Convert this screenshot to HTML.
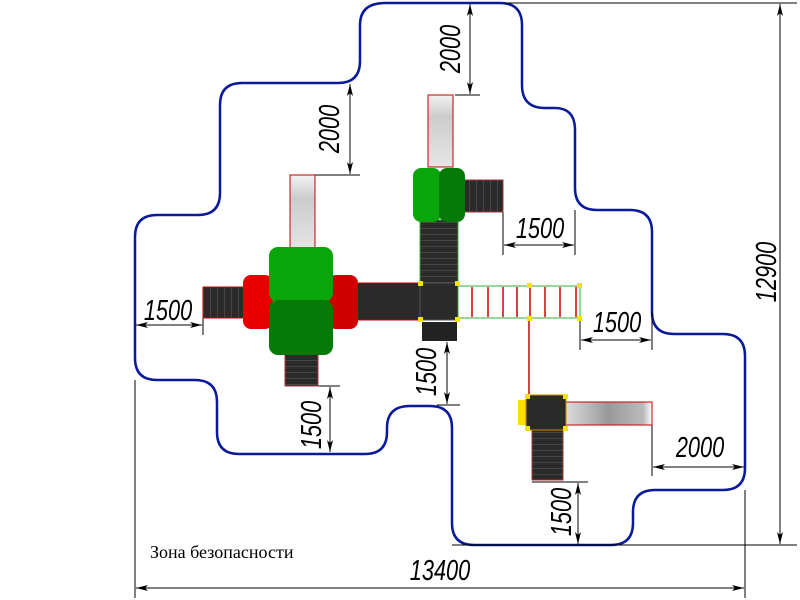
<!DOCTYPE html>
<html><head><meta charset="utf-8"><style>body{margin:0;background:#fff}svg{display:block}</style></head><body>
<svg width="800" height="600" viewBox="0 0 800 600" xmlns="http://www.w3.org/2000/svg">
<defs>
<marker id="a" viewBox="0 0 12 6" refX="12" refY="3" markerWidth="12" markerHeight="6" orient="auto-start-reverse" markerUnits="userSpaceOnUse"><path d="M0,0 L12,3 L0,6 L3,3 Z" fill="#000"/></marker>
<linearGradient id="sl" x1="0" y1="0" x2="0" y2="1"><stop offset="0" stop-color="#f2f2f2"/><stop offset=".3" stop-color="#ccc"/><stop offset="1" stop-color="#e6e6e6"/></linearGradient>
<linearGradient id="sh" x1="0" y1="0" x2="1" y2="0"><stop offset="0" stop-color="#ddd"/><stop offset=".5" stop-color="#999"/><stop offset=".9" stop-color="#bbb"/><stop offset="1" stop-color="#fff"/></linearGradient>
<pattern id="st" width="6" height="6" patternUnits="userSpaceOnUse"><rect width="6" height="6" fill="#2a2a2a"/><rect width="6" height="1" fill="#444"/></pattern>
<pattern id="sv" width="7" height="7" patternUnits="userSpaceOnUse"><rect width="7" height="7" fill="#2a2a2a"/><rect width="1" height="7" fill="#444"/></pattern>
</defs>
<path d="M385,3 L500,3 Q522,3 522,25 L522,85 Q522,108 545,108 L555,108 Q575,108 575,130 L575,188 Q575,210 597,210 L630,210 Q652,210 652,232 L652,312 Q652,334 674,334 L723,334 Q745,334 745,356 L745,468 Q745,490 723,490 L655,490 Q633,490 633,512 L633,523 Q633,545 611,545 L474,545 Q452,545 452,523 L452,428 Q452,406 430,406 L410,406 Q387,406 387,428 L387,432 Q387,454 365,454 L239,454 Q217,454 217,432 L217,402 Q217,380 195,380 L157,380 Q135,380 135,358 L135,237 Q135,215 157,215 L198,215 Q220,215 220,193 L220,105 Q220,83 242,83 L338,83 Q360,83 360,61 L360,25 Q360,3 385,3 Z" fill="none" stroke="#0a1a9a" stroke-width="2.5"/>
<g stroke="#000" stroke-width="1" fill="none">
<line x1="505" y1="3" x2="797" y2="3"/><line x1="452" y1="545" x2="797" y2="545"/>
<line x1="780" y1="4" x2="780" y2="544" marker-start="url(#a)" marker-end="url(#a)"/>
<line x1="135" y1="380" x2="135" y2="598"/><line x1="745" y1="490" x2="745" y2="598"/>
<line x1="136" y1="588" x2="744" y2="588" marker-start="url(#a)" marker-end="url(#a)"/>
<line x1="455" y1="95" x2="480" y2="95"/><line x1="470" y1="4" x2="470" y2="94" marker-start="url(#a)" marker-end="url(#a)"/>
<line x1="315" y1="175" x2="360" y2="175"/><line x1="350" y1="84" x2="350" y2="174" marker-start="url(#a)" marker-end="url(#a)"/>
<line x1="203" y1="287" x2="203" y2="335"/><line x1="136" y1="325" x2="202" y2="325" marker-start="url(#a)" marker-end="url(#a)"/>
<line x1="285" y1="386" x2="340" y2="386"/><line x1="330" y1="387" x2="330" y2="452" marker-start="url(#a)" marker-end="url(#a)"/>
<line x1="437" y1="405" x2="460" y2="405"/><line x1="447" y1="342" x2="447" y2="404" marker-start="url(#a)" marker-end="url(#a)"/>
<line x1="503" y1="190" x2="503" y2="255"/><line x1="575" y1="210" x2="575" y2="255"/><line x1="504" y1="245" x2="574" y2="245" marker-start="url(#a)" marker-end="url(#a)"/>
<line x1="580" y1="318" x2="580" y2="350"/><line x1="652" y1="312" x2="652" y2="350"/><line x1="581" y1="340" x2="651" y2="340" marker-start="url(#a)" marker-end="url(#a)"/>
<line x1="652" y1="402" x2="652" y2="476"/><line x1="653" y1="467" x2="744" y2="467" marker-start="url(#a)" marker-end="url(#a)"/>
<line x1="532" y1="482" x2="588" y2="482"/><line x1="578" y1="483" x2="578" y2="544" marker-start="url(#a)" marker-end="url(#a)"/>
</g>
<g font-family="Liberation Sans, sans-serif" font-style="italic" font-size="29" fill="#000">
<text transform="translate(460,49) rotate(-90) scale(0.75,1)" text-anchor="middle">2000</text>
<text transform="translate(339,129) rotate(-90) scale(0.75,1)" text-anchor="middle">2000</text>
<text transform="translate(321,425) rotate(-90) scale(0.75,1)" text-anchor="middle">1500</text>
<text transform="translate(436,372) rotate(-90) scale(0.75,1)" text-anchor="middle">1500</text>
<text transform="translate(571,512) rotate(-90) scale(0.75,1)" text-anchor="middle">1500</text>
<text transform="translate(776,272) rotate(-90) scale(0.75,1)" text-anchor="middle">12900</text>
<text transform="translate(168,320) scale(0.75,1)" text-anchor="middle">1500</text>
<text transform="translate(540,238) scale(0.75,1)" text-anchor="middle">1500</text>
<text transform="translate(617,332) scale(0.75,1)" text-anchor="middle">1500</text>
<text transform="translate(700,457) scale(0.75,1)" text-anchor="middle">2000</text>
<text transform="translate(440,580) scale(0.75,1)" text-anchor="middle">13400</text>
</g>
<text x="150" y="558" font-family="Liberation Serif, serif" font-size="18">Зона безопасности</text>
<rect x="290" y="175" width="25" height="78" fill="url(#sl)" stroke="#c00"/>
<rect x="203" y="287" width="42" height="31" fill="url(#sv)" stroke="#c00"/>
<rect x="285" y="352" width="33" height="34" fill="url(#st)" stroke="#a33"/>
<rect x="355" y="283" width="66" height="37" fill="#2a2a2a" stroke="#c00"/>
<rect x="243" y="275" width="30" height="54" rx="8" fill="#e80000"/>
<rect x="328" y="275" width="30" height="54" rx="8" fill="#d00000"/>
<rect x="269" y="247" width="64" height="55" rx="9" fill="#0aa50a"/>
<rect x="269" y="300" width="64" height="55" rx="9" fill="#067a06"/>
<rect x="428" y="95" width="25" height="72" fill="url(#sl)" stroke="#c00"/>
<rect x="463" y="180" width="40" height="32" fill="url(#sv)" stroke="#a33"/>
<rect x="420" y="220" width="38" height="64" fill="url(#st)" stroke="#3a3"/>
<rect x="420" y="283" width="38" height="37" fill="#2a2a2a" stroke="#555"/>
<rect x="422" y="322" width="35" height="19" fill="#222"/>
<rect x="413" y="168" width="28" height="54" rx="8" fill="#0aa50a"/>
<rect x="439" y="168" width="26" height="54" rx="8" fill="#067a06"/>
<rect x="458" y="286" width="122" height="32" fill="#fff" stroke="#3a3"/>
<g stroke="#c00" stroke-width="1.5">
<line x1="472" y1="287" x2="472" y2="317"/><line x1="488" y1="287" x2="488" y2="317"/><line x1="503" y1="287" x2="503" y2="317"/><line x1="517" y1="287" x2="517" y2="317"/><line x1="530" y1="287" x2="530" y2="317"/><line x1="545" y1="287" x2="545" y2="317"/><line x1="560" y1="287" x2="560" y2="317"/><line x1="576" y1="287" x2="576" y2="317"/>
<line x1="529" y1="318" x2="529" y2="395"/>
</g>
<rect x="518" y="400" width="9" height="25" fill="#ffe000"/>
<rect x="565" y="402" width="87" height="23" fill="url(#sh)" stroke="#c00"/>
<rect x="532" y="430" width="31" height="50" fill="url(#st)" stroke="#a33"/>
<rect x="526" y="395" width="40" height="35" fill="#2a2a2a" stroke="#c80"/>
<g fill="#f2e600">
<rect x="418" y="281" width="5" height="5"/><rect x="455" y="281" width="5" height="5"/><rect x="418" y="317" width="5" height="5"/><rect x="455" y="317" width="5" height="5"/>
<rect x="527" y="283" width="5" height="5"/><rect x="527" y="316" width="5" height="5"/><rect x="577" y="283" width="5" height="5"/><rect x="577" y="316" width="5" height="5"/>
<rect x="525" y="394" width="5" height="5"/><rect x="563" y="394" width="5" height="5"/><rect x="525" y="426" width="5" height="5"/><rect x="563" y="426" width="5" height="5"/>
</g>
</svg>
</body></html>
